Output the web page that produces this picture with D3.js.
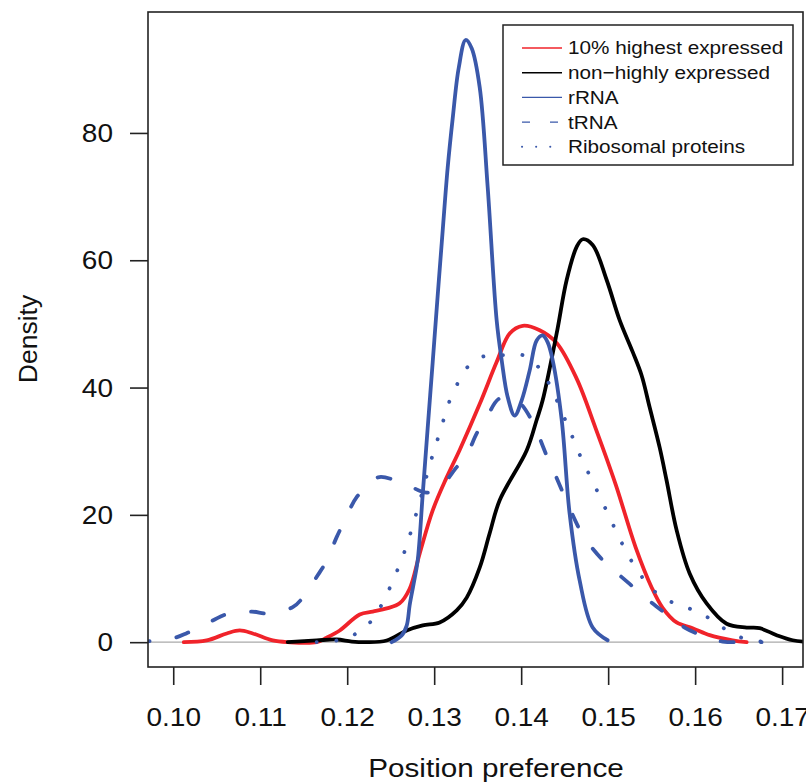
<!DOCTYPE html>
<html>
<head>
<meta charset="utf-8">
<script src="https://cdn.jsdelivr.net/npm/d3@7"></script>
<style>
  body { margin: 0; background: #fff; }
  text { font-family: "Liberation Sans", Arial, Helvetica, sans-serif; fill: #111; }
</style>
</head>
<body>
<script>
// values (position preference vs density)
var xTicks = [0.10, 0.11, 0.12, 0.13, 0.14, 0.15, 0.16, 0.17];
var yTicks = [0, 20, 40, 60, 80];
var xLabel = "Position preference";
var yLabel = "Density";

var highX = [0.10121, 0.10385, 0.10615, 0.10764, 0.10914, 0.11144, 0.11316, 0.11649, 0.11764, 0.11914,
  0.12144, 0.12293, 0.12454, 0.12603, 0.12718, 0.12833, 0.12983, 0.13144, 0.13293, 0.13523,
  0.13718, 0.13868, 0.14017, 0.14213, 0.14408, 0.14638, 0.14856, 0.15086, 0.15316, 0.15500,
  0.15626, 0.15787, 0.15971, 0.16167, 0.16431, 0.16592];
var highY = [0, 0.27, 1.37, 1.84, 1.37, 0.27, 0, 0, 0.7, 1.84,
  4.35, 4.8, 5.3, 6.1, 8.4, 13.9, 20.7, 25.9, 30.2, 37.4,
  44.0, 48.5, 49.7, 49.0, 47.0, 41.4, 33.6, 24.8, 14.9, 8.6,
  5.4, 3.1, 2.2, 1.1, 0.3, 0];

var nonX = [0.11316, 0.11649, 0.11879, 0.12052, 0.12224, 0.12454, 0.12684, 0.12868, 0.13063, 0.13259,
  0.13374, 0.13523, 0.13638, 0.13753, 0.14063, 0.14178, 0.14247, 0.14408, 0.14523, 0.14638,
  0.14707, 0.14822, 0.14983, 0.15132, 0.15282, 0.15385, 0.15477, 0.15592, 0.15672, 0.15787,
  0.15937, 0.16132, 0.16362, 0.16592, 0.16741, 0.16937, 0.17121, 0.17316];
var nonY = [0, 0.27, 0.42, 0.1, 0, 0.27, 1.84, 2.63, 3.1, 5.0,
  7.0, 11.7, 17.1, 22.3, 30.1, 34.9, 38.0, 48.5, 56.9, 62.1,
  63.3, 62.4, 56.9, 50.6, 45.6, 41.9, 36.9, 30.6, 25.4, 17.6,
  10.8, 6.1, 2.9, 2.3, 2.2, 1.1, 0.3, 0];

var rrnaX = [0.12511, 0.12626, 0.12684, 0.12718, 0.12764, 0.12810, 0.12868, 0.12925, 0.12983, 0.13040,
  0.13098, 0.13155, 0.13213, 0.13282, 0.13362, 0.13431, 0.13523, 0.13615, 0.13718, 0.13776,
  0.13845, 0.13925, 0.14006, 0.14098, 0.14178, 0.14247, 0.14305, 0.14362, 0.14466, 0.14557,
  0.14672, 0.14822, 0.14994];
var rrnaY = [0, 1.05, 2.6, 5.8, 9.2, 12.8, 23.2, 33.6, 44.0, 54.4,
  64.7, 74.5, 82.3, 90.2, 94.6, 93.3, 87.2, 71.5, 50.6, 44.3,
  38.5, 35.6, 38.0, 42.7, 47.4, 48.2, 47.1, 44.3, 34.9, 20.2,
  9.7, 2.3, 0.3];

var trnaX = [0.0958, 0.09994, 0.10155, 0.10454, 0.10615, 0.10902, 0.11086, 0.11374, 0.11489, 0.11661,
  0.11764, 0.11879, 0.11971, 0.12109, 0.12224, 0.12356, 0.12638, 0.12914, 0.13063, 0.13259,
  0.13374, 0.13489, 0.13603, 0.13753, 0.13948, 0.14121, 0.14190, 0.14305, 0.14385, 0.14695,
  0.14810, 0.14994, 0.15132, 0.15362, 0.15500, 0.15741, 0.15879, 0.16144, 0.16316, 0.16603,
  0.16764];
var trnaY = [0, 0.6, 1.4, 3.4, 4.4, 4.8, 4.5, 5.5, 7.0, 10.5,
  12.8, 16.5, 19.1, 22.8, 24.2, 25.9, 25.0, 23.5, 24.3, 27.5,
  29.4, 32.8, 35.3, 38.3, 38.0, 34.9, 32.8, 28.9, 26.5, 17.1,
  14.9, 12.1, 10.5, 7.8, 6.2, 3.7, 2.3, 0.7, 0.1, 0,
  0];

var riboX = [0.11649, 0.11891, 0.12109, 0.12282, 0.12408, 0.12511, 0.12603, 0.12684, 0.12753, 0.12822,
  0.12948, 0.13017, 0.13086, 0.13155, 0.13247, 0.13362, 0.13546, 0.13787, 0.14017, 0.14213,
  0.14328, 0.14523, 0.14615, 0.14707, 0.14810, 0.14914, 0.15017, 0.15121, 0.15224, 0.15351,
  0.15500, 0.15684, 0.15914, 0.16132, 0.16316, 0.16534, 0.16764, 0.16900];
var riboY = [0, 0.3, 1.4, 3.4, 6.2, 9.2, 12.2, 15.2, 18.3, 21.5,
  27.8, 30.9, 33.9, 37.1, 40.0, 42.9, 44.8, 45.1, 45.1, 43.0,
  40.4, 34.4, 31.4, 28.4, 25.6, 22.6, 19.6, 16.6, 13.8, 11.0,
  8.4, 6.6, 5.4, 4.0, 2.3, 0.7, 0.1, 0];

var seriesNames = ["10% highest expressed", "non\u2212highly expressed", "rRNA", "tRNA", "Ribosomal proteins"];

var red = "#f0232a", blue = "#3a58aa";
var series = [
  {name: seriesNames[0], xs: highX, ys: highY, color: red, dash: null},
  {name: seriesNames[1], xs: nonX, ys: nonY, color: "#000", dash: null},
  {name: seriesNames[2], xs: rrnaX, ys: rrnaY, color: blue, dash: null},
  {name: seriesNames[3], xs: trnaX, ys: trnaY, color: blue, dash: "13,27"},
  {name: seriesNames[4], xs: riboX, ys: riboY, color: blue, dash: "0.1,19.5"}
];

var width = 806, height = 784;
var L = 148, T = 12, R = 803, B = 667;
var stretch = 1.12;

var svg = d3.select("body").append("svg")
    .attr("width", width)
    .attr("height", height);

var x = d3.scaleLinear().domain([0.0971, 0.1724]).range([L, R]);
var y = d3.scaleLinear().domain([-3.9, 99.0]).range([B, T]);

svg.append("clipPath").attr("id", "plotclip")
  .append("rect").attr("x", L).attr("y", T).attr("width", R - L).attr("height", B - T);

// zero line
svg.append("line")
    .attr("x1", L).attr("x2", R)
    .attr("y1", y(0)).attr("y2", y(0))
    .attr("stroke", "#aaa").attr("stroke-width", 1.2);

var line = d3.line()
    .x(function(d) { return x(d[0]); })
    .y(function(d) { return y(d[1]); })
    .curve(d3.curveCatmullRom.alpha(0.5));

var curves = svg.append("g").attr("clip-path", "url(#plotclip)");
series.forEach(function(s) {
  var pts = s.xs.map(function(v, i) { return [v, s.ys[i]]; });
  curves.append("path")
      .datum(pts)
      .attr("d", line)
      .attr("fill", "none")
      .attr("stroke", s.color)
      .attr("stroke-width", 3.8)
      .attr("stroke-linecap", "round")
      .attr("stroke-linejoin", "round")
      .attr("stroke-dasharray", s.dash);
});

// axes
var xAxis = svg.append("g")
    .attr("transform", "translate(0," + B + ")")
    .call(d3.axisBottom(x).tickValues(xTicks).tickSize(18).tickPadding(23)
      .tickFormat(d3.format(".2f")));
xAxis.select(".domain").remove();
xAxis.selectAll("line").attr("stroke", "#222").attr("stroke-width", 1.6);
xAxis.selectAll("text")
    .attr("font-size", 25)
    .attr("font-family", "Liberation Sans, Arial, sans-serif")
    .attr("fill", "#111")
    .attr("transform", "scale(" + stretch + ",1)");

var yAxis = svg.append("g")
    .attr("transform", "translate(" + L + ",0)")
    .call(d3.axisLeft(y).tickValues(yTicks).tickSize(18));
yAxis.select(".domain").remove();
yAxis.selectAll("line").attr("stroke", "#222").attr("stroke-width", 1.6);
yAxis.selectAll("text")
    .attr("font-size", 25)
    .attr("font-family", "Liberation Sans, Arial, sans-serif")
    .attr("fill", "#111")
    .attr("x", -35 / stretch)
    .attr("dy", "0.34em")
    .attr("transform", "scale(" + stretch + ",1)");

// box
svg.append("rect")
    .attr("x", L).attr("y", T)
    .attr("width", R - L).attr("height", B - T)
    .attr("fill", "none").attr("stroke", "#222").attr("stroke-width", 1.6);

// titles
svg.append("text")
    .attr("transform", "translate(496,777) scale(" + stretch + ",1)")
    .attr("text-anchor", "middle")
    .attr("font-size", 26.5)
    .text(xLabel);

svg.append("text")
    .attr("transform", "translate(37,339) rotate(-90)")
    .attr("text-anchor", "middle")
    .attr("font-size", 26.5)
    .text(yLabel);

// legend
var leg = svg.append("g");
leg.append("rect")
    .attr("x", 503).attr("y", 25)
    .attr("width", 290).attr("height", 140)
    .attr("fill", "#fff").attr("stroke", "#222").attr("stroke-width", 1.5);

var legDash = [null, null, null, "8,20", "0.1,14"];
series.forEach(function(s, i) {
  var ly = 48 + i * 24.7;
  leg.append("line")
      .attr("x1", 522).attr("x2", 562)
      .attr("y1", ly).attr("y2", ly)
      .attr("stroke", s.color)
      .attr("stroke-width", i == 4 ? 2 : 1.4)
      .attr("stroke-linecap", i == 4 ? "round" : "butt")
      .attr("stroke-dasharray", legDash[i]);
  leg.append("text")
      .attr("transform", "translate(568," + ly + ") scale(" + stretch + ",1)")
      .attr("dy", "0.35em")
      .attr("font-size", 18.5)
      .text(s.name);
});
</script>
</body>
</html>
